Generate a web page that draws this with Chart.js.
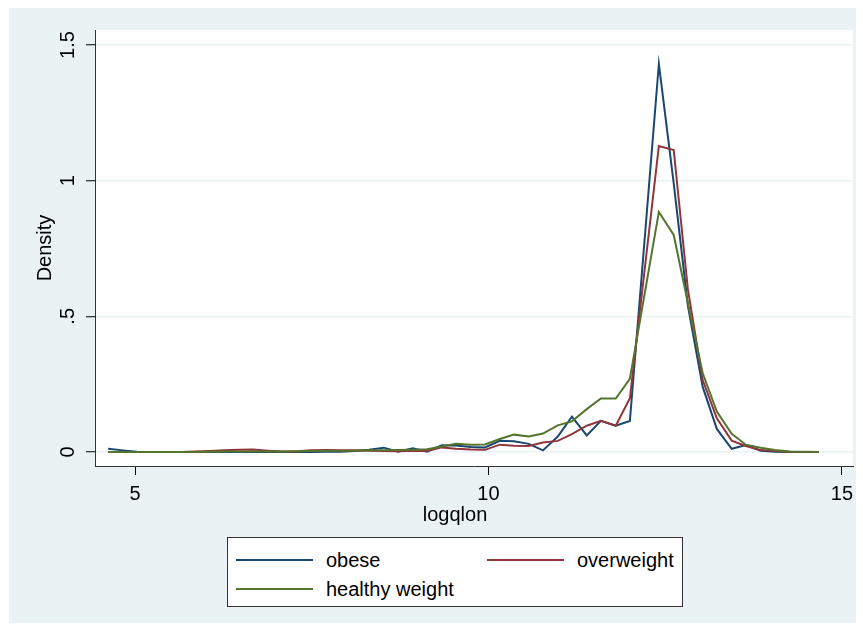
<!DOCTYPE html>
<html lang="en">
<head>
    <meta charset="UTF-8">
    <title>Density of logqlon</title>
    <script src="https://cdn.jsdelivr.net/npm/chart.js"></script>
    <style>
        body {
            margin: 0;
            padding: 0;
            background: white;
            font-family: "Liberation Sans", Arial, sans-serif;
        }
        #wrap {
            position: relative;
            width: 863px;
            height: 631px;
        }
        canvas {
            position: absolute;
            left: 0;
            top: 0;
        }
        .legend {
            position: absolute;
            left: 227px;
            top: 537px;
            width: 456px;
            height: 70px;
            background: white;
            border: 1px solid #333;
            box-sizing: border-box;
            font-size: 20px;
            color: #000;
        }
        .item {
            position: absolute;
            height: 24px;
            line-height: 24px;
        }
        .item span.swatch {
            position: absolute;
            top: 11px;
            left: 0;
            width: 77px;
            height: 2px;
        }
        .item span.lab {
            position: absolute;
            left: 90px;
            white-space: nowrap;
        }
    </style>
</head>
<body>

<div id="wrap">
    <canvas id="densityChart" width="863" height="631"></canvas>
    <div class="legend" id="legend"></div>
</div>

<script>
    // x grid of the density estimate (logqlon)
    const xValues = [4.62, 4.83, 5.03, 5.24, 5.44, 5.65, 5.85, 6.06, 6.26, 6.47,
        6.67, 6.88, 7.08, 7.29, 7.49, 7.70, 7.90, 8.11, 8.31, 8.52,
        8.72, 8.93, 9.13, 9.34, 9.54, 9.75, 9.95, 10.16, 10.36, 10.57,
        10.77, 10.98, 11.18, 11.39, 11.59, 11.80, 12.00, 12.41, 12.62, 12.82,
        13.03, 13.23, 13.44, 13.64, 13.85, 14.05, 14.26, 14.46, 14.67];

    const obese = [0.012, 0.006, 0.001, 0, 0, 0, 0, 0, 0, 0,
        0, 0, 0, 0, 0, 0.001, 0.001, 0.004, 0.008, 0.016,
        0.001, 0.014, 0.001, 0.025, 0.024, 0.018, 0.017, 0.041, 0.040, 0.030,
        0.006, 0.057, 0.130, 0.061, 0.115, 0.097, 0.114, 1.43, 0.99, 0.54,
        0.24, 0.085, 0.012, 0.026, 0.005, 0.001, 0, 0, 0];

    const overweight = [0, 0, 0, 0, 0, 0, 0.002, 0.004, 0.006, 0.008,
        0.009, 0.005, 0.002, 0.003, 0.006, 0.007, 0.006, 0.006, 0.005, 0.004,
        0.003, 0.005, 0.004, 0.017, 0.012, 0.009, 0.008, 0.027, 0.023, 0.022,
        0.035, 0.041, 0.066, 0.097, 0.115, 0.097, 0.198, 1.128, 1.113, 0.60,
        0.265, 0.124, 0.042, 0.022, 0.007, 0.004, 0.001, 0, 0];

    const healthy = [0, 0, 0, 0, 0, 0, 0, 0.001, 0.002, 0.002,
        0.002, 0.002, 0.002, 0.003, 0.004, 0.005, 0.005, 0.005, 0.006, 0.006,
        0.007, 0.008, 0.010, 0.020, 0.030, 0.027, 0.028, 0.048, 0.064, 0.057,
        0.068, 0.098, 0.113, 0.158, 0.197, 0.197, 0.270, 0.885, 0.80, 0.55,
        0.29, 0.149, 0.067, 0.027, 0.016, 0.007, 0.002, 0.001, 0];

    const seriesNames = ['obese', 'overweight', 'healthy weight'];
    const seriesColors = ['#1a476f', '#90353b', '#55752f'];
    const xTicks = [5, 10, 15];
    const yTicks = [0, 0.5, 1, 1.5];
    const yTickLabels = ['0', '.5', '1', '1.5'];
    const xTitle = 'logqlon';
    const yTitle = 'Density';

    const FONT = '20px "Liberation Sans", Arial, sans-serif';

    function toPoints(ys) {
        return xValues.map((x, i) => ({x: x, y: ys[i]}));
    }

    // background, plot region and axis text
    const stataLook = {
        id: 'stataLook',
        beforeDraw(chart) {
            const ctx = chart.ctx;
            const a = chart.chartArea;
            ctx.save();
            ctx.fillStyle = '#eaf2f3';
            ctx.fillRect(9, 8, 847, 615);
            ctx.fillStyle = '#ffffff';
            ctx.fillRect(a.left, a.top, a.right - a.left, a.bottom - a.top);
            ctx.restore();
        },
        afterDraw(chart) {
            const ctx = chart.ctx;
            const xs = chart.scales.x;
            const ys = chart.scales.y;
            ctx.save();
            ctx.fillStyle = '#000';
            ctx.font = FONT;
            ctx.textAlign = 'center';
            ctx.textBaseline = 'middle';
            xTicks.forEach(v => {
                ctx.fillText(String(v), xs.getPixelForValue(v), 494);
            });
            ctx.fillText(xTitle, 455, 515);
            yTicks.forEach((v, i) => {
                ctx.save();
                ctx.translate(68, ys.getPixelForValue(v));
                ctx.rotate(-Math.PI / 2);
                ctx.fillText(yTickLabels[i], 0, 0);
                ctx.restore();
            });
            ctx.save();
            ctx.translate(45, (chart.chartArea.top + chart.chartArea.bottom) / 2);
            ctx.rotate(-Math.PI / 2);
            ctx.fillText(yTitle, 0, 0);
            ctx.restore();
            ctx.restore();
        }
    };

    const chart = new Chart(document.getElementById('densityChart'), {
        type: 'line',
        data: {
            datasets: [obese, overweight, healthy].map((d, i) => ({
                label: seriesNames[i],
                data: toPoints(d),
                borderColor: seriesColors[i],
                borderWidth: 2,
                pointRadius: 0,
                tension: 0,
                fill: false,
                order: 2 - i
            }))
        },
        options: {
            responsive: false,
            animation: false,
            layout: {padding: {left: 0, top: 30, right: 10, bottom: 0}},
            plugins: {
                legend: {display: false},
                tooltip: {enabled: false}
            },
            scales: {
                x: {
                    type: 'linear',
                    min: 4.434,
                    max: 15.156,
                    afterBuildTicks: s => { s.ticks = xTicks.map(v => ({value: v})); },
                    afterFit: s => { s.height = 165; },
                    ticks: {display: false},
                    grid: {drawOnChartArea: false, tickLength: 9, tickColor: '#000', tickWidth: 1},
                    border: {display: true, color: '#333', width: 1}
                },
                y: {
                    type: 'linear',
                    min: -0.0516,
                    max: 1.5553,
                    afterBuildTicks: s => { s.ticks = yTicks.map(v => ({value: v})); },
                    afterFit: s => { s.width = 95; },
                    ticks: {display: false},
                    grid: {color: '#eaf2f3', lineWidth: 1.5, tickLength: 9, tickColor: '#000', tickWidth: 1},
                    border: {display: true, color: '#333', width: 1}
                }
            }
        },
        plugins: [stataLook]
    });

    // legend box, built from the series arrays
    const legend = document.getElementById('legend');
    const spots = [[8, 10], [259, 10], [8, 39]];
    seriesNames.forEach((name, i) => {
        const item = document.createElement('div');
        item.className = 'item';
        item.style.left = spots[i][0] + 'px';
        item.style.top = spots[i][1] + 'px';
        item.innerHTML = '<span class="swatch" style="background:' + seriesColors[i] + '"></span>' +
            '<span class="lab">' + name + '</span>';
        legend.appendChild(item);
    });
</script>

</body>
</html>
